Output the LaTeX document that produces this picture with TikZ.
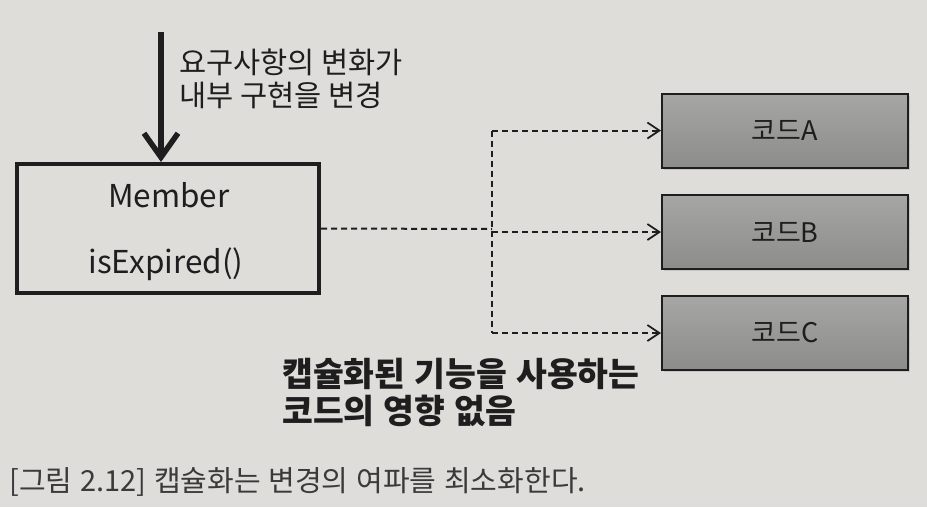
\documentclass[tikz,border=0pt]{standalone}
\usepackage{fontspec}
\setmainfont{Noto Sans CJK KR}
\newfontfamily\notefont{Noto Sans CJK KR}[WordSpace=1.5]
\newfontfamily\capfont{Noto Sans CJK KR}[WordSpace=1.2]
\usetikzlibrary{arrows.meta,shadows}
\definecolor{bgcol}{HTML}{DEDDDA}
\definecolor{ink}{HTML}{1E1E1E}
\definecolor{boxtop}{HTML}{A6A6A4}
\definecolor{boxbot}{HTML}{8C8C8A}
\definecolor{capcol}{HTML}{3A3A3A}
\begin{document}
\begin{tikzpicture}[x=1pt,y=-1pt,
  every node/.style={text=ink},
  membox/.style={draw=ink, line width=4pt, minimum width=302pt, minimum height=129pt, inner sep=0pt},
  codebox/.style={draw=ink, line width=2pt, top color=boxtop, bottom color=boxbot,
     minimum width=246pt, minimum height=74pt, inner sep=0pt,
     drop shadow={shadow xshift=1.5pt, shadow yshift=-2pt, opacity=0.25},
     font=\fontsize{27}{30}\selectfont},
  bigarrow/.style={draw=ink, line width=5.5pt, -{Straight Barb[length=24pt,width=34pt,line width=5.5pt]}},
  dsh/.style={draw=ink, line width=2pt, dash pattern=on 6pt off 4pt},
  dsharrow/.style={dsh, -{Straight Barb[length=12pt,width=16pt,line width=1.8pt]}},
  lbl/.style={font=\fontsize{29.5}{33}\selectfont, align=left, inner sep=0pt},
  notetext/.style={font=\notefont\bfseries\fontsize{33.5}{37}\selectfont, align=left, inner sep=0pt},
  captext/.style={font=\capfont\fontsize{29}{30}\selectfont, text=capcol, inner sep=0pt}
]
\fill[bgcol] (0,0) rectangle (927,507);
\useasboundingbox (0,0) rectangle (927,507);

% Member box
\node[membox] (member) at (168,228.5) {};
\node[font=\fontsize{31.5}{34}\selectfont] (mname) at (169,195) {Member};
\node[font=\fontsize{31.5}{34}\selectfont] (mmeth) at (166,264) {isExpired()};

% change arrow
\coordinate (src) at (161,32);
\draw[bigarrow] (src) -- (src |- member.north);
\node[lbl, anchor=west] (req) at (179,79) {요구사항의 변화가\\내부 구현을 변경};

% code boxes
\node[codebox] (a) at (785,130.5) {코드A};
\node[codebox] (b) at (785,232) {코드B};
\node[codebox] (c) at (785,333) {코드C};

% dashed connectors
\coordinate (j) at (492,229);
\draw[dsh] (member.east) -- (j);
\draw[dsh] (j |- a.west) -- (j |- c.west);
\draw[dsharrow] (j |- a.west) -- (a.west);
\draw[dsharrow] (j |- b.west) -- (b.west);
\draw[dsharrow] (j |- c.west) -- (c.west);

% note
\node[notetext, anchor=west] (nt) at (282,392) {캡슐화된 기능을 사용하는\\코드의 영향 없음};

% caption
\node[captext, anchor=west] (caption) at (9,482) {[그림 2.12] 캡슐화는 변경의 여파를 최소화한다.};
\end{tikzpicture}
\end{document}
